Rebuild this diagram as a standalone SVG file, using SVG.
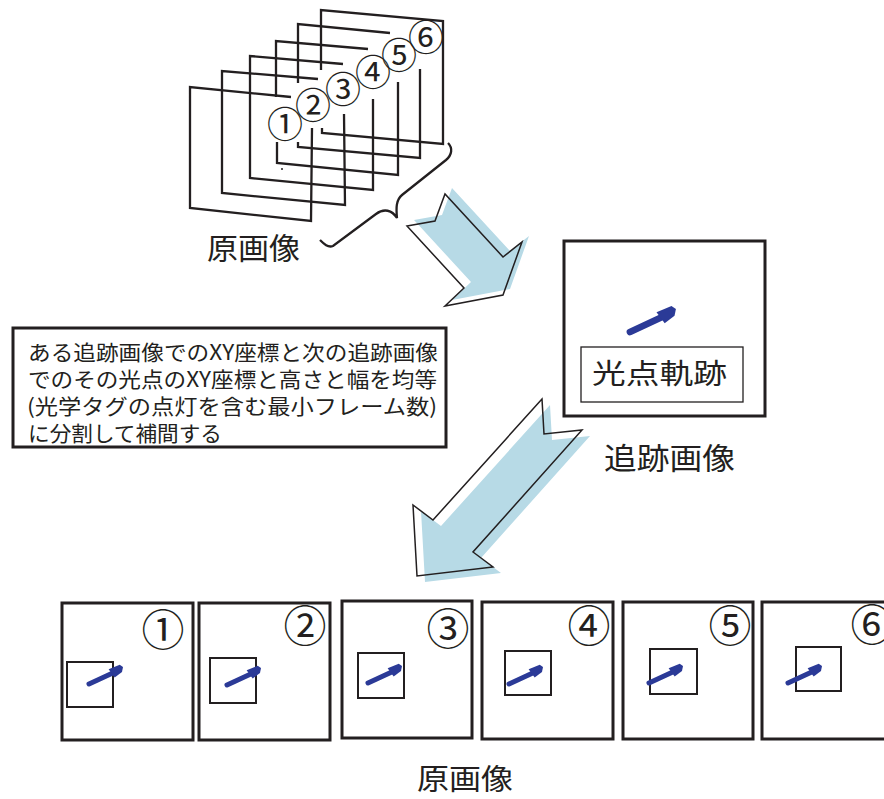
<svg xmlns="http://www.w3.org/2000/svg" xmlns:xlink="http://www.w3.org/1999/xlink" width="884" height="799" viewBox="0 0 884 799">
<style>
.ln{fill:none;stroke:#231f20;stroke-width:2.3;stroke-linejoin:miter}
.fr{fill:#fff;stroke:#231f20;stroke-width:3}
.in{fill:none;stroke:#231f20;stroke-width:2}
.jp{font-family:"Noto Sans CJK JP","Noto Sans",sans-serif;fill:#231f20}
.num{font-family:"Noto Sans CJK JP","DejaVu Sans",sans-serif;fill:#231f20;text-anchor:middle;dominant-baseline:central}
.big{fill:none;stroke:#231f20;stroke-width:1.5;stroke-linejoin:miter}
.sh{fill:#b7dae6;stroke:none}
</style>
<defs>
<g id="trk">
<path d="M0,0 L28,0" stroke="#2b3a97" stroke-width="5" stroke-linecap="round" fill="none"/>
<path d="M24,-5 L36,-4.5 L38,-1 L35,3 L26,5 Z" fill="#2b3a97"/>
</g>
</defs>
<rect width="884" height="799" fill="#fff"/>

<g id="stack">
<path class="ln" d="M291,97 L190,87 L190,208 L311,221 L312,128"/>
<path class="ln" d="M318,79 L222,71 L222,193 L345,205 L344,114"/>
<path class="ln" d="M343,64 L250,56 L250,178 L373,190 L373,99"/>
<path class="ln" d="M368,49 L276,41 L276,97 M277,142 L277,163 L398,175 L398,82"/>
<path class="ln" d="M390,33 L298,24 L298,83 M298,142 L298,147 L420,158 L420,69"/>
<path class="ln" d="M321,70 L321,10 L443,21 L443,144 L322,133 L322,128"/>
<circle cx="282" cy="169" r="1" fill="#231f20"/>
<text class="num" font-size="36" x="285" y="122">①</text>
<text class="num" font-size="36" x="313" y="103">②</text>
<text class="num" font-size="36" x="343" y="87">③</text>
<text class="num" font-size="36" x="373" y="70">④</text>
<text class="num" font-size="36" x="399" y="53">⑤</text>
<text class="num" font-size="36" x="426" y="35">⑥</text>
</g>

<g id="label-original-top">
<path class="ln" stroke-width="1.5" d="M448,143 C453,148 452,155 446,160 L402,195 C396,200 396,208 397,218 C392,210 384,208 376,214 L333,246 C328,248 324,244 320,240"/>
<text class="jp" font-size="30" x="207" y="259" textLength="93" lengthAdjust="spacingAndGlyphs">原画像</text>
</g>

<g id="textbox">
<rect x="13" y="328" width="433" height="119" fill="#fff" stroke="#231f20" stroke-width="3"/>
<text class="jp" font-size="21" x="28" y="360" textLength="410" lengthAdjust="spacingAndGlyphs">ある追跡画像でのXY座標と次の追跡画像</text>
<text class="jp" font-size="21" x="28" y="387" textLength="409" lengthAdjust="spacingAndGlyphs">でのその光点のXY座標と高さと幅を均等</text>
<text class="jp" font-size="21" x="27" y="414" textLength="410" lengthAdjust="spacingAndGlyphs">(光学タグの点灯を含む最小フレーム数)</text>
<text class="jp" font-size="21" x="28" y="441" textLength="194" lengthAdjust="spacingAndGlyphs">に分割して補間する</text>
</g>

<g id="track-image">
<rect x="564" y="241" width="201" height="175" fill="#fff" stroke="#231f20" stroke-width="3"/>
<use xlink:href="#trk" href="#trk" transform="translate(630,332) rotate(-25) scale(1.35)"/>
<rect x="581" y="347" width="162" height="55" fill="#fff" stroke="#231f20" stroke-width="1.3"/>
<text class="jp" font-size="28" x="592" y="384" textLength="135" lengthAdjust="spacingAndGlyphs">光点軌跡</text>
<text class="jp" font-size="30" x="604" y="469" textLength="131" lengthAdjust="spacingAndGlyphs">追跡画像</text>
</g>

<g id="connectors">
<polygon class="sh" points="414,220 442,215 452,188 510,251 529,236 510,289 452,300 471,282"/>
<polygon class="big" points="407,226 435,221 445,194 503,257 522,242 503,295 445,306 464,288"/>
<polygon class="sh" points="550,405 441,526 421,511 425,582 501,573 481,558 590,436 552,440"/>
<polygon class="big" points="542,399 433,520 413,505 417,576 493,567 473,552 582,430 544,434"/>
</g>

<g id="frame-1">
<rect class="fr" x="62" y="603" width="131" height="137"/>
<rect class="in" x="67" y="662" width="46" height="45"/>
<use xlink:href="#trk" href="#trk" transform="translate(89,684) rotate(-25)"/>
<text class="num" font-size="43" x="163" y="627">①</text>
</g>
<g id="frame-2">
<rect class="fr" x="199" y="603" width="131" height="137"/>
<rect class="in" x="210" y="658" width="46" height="45"/>
<use xlink:href="#trk" href="#trk" transform="translate(227,685) rotate(-25)"/>
<text class="num" font-size="43" x="305" y="623">②</text>
</g>
<g id="frame-3">
<rect class="fr" x="342" y="601" width="130" height="137"/>
<rect class="in" x="358" y="653" width="46" height="45"/>
<use xlink:href="#trk" href="#trk" transform="translate(368,683) rotate(-25)"/>
<text class="num" font-size="43" x="448" y="626">③</text>
</g>
<g id="frame-4">
<rect class="fr" x="482" y="602" width="131" height="137"/>
<rect class="in" x="505" y="651" width="46" height="44"/>
<use xlink:href="#trk" href="#trk" transform="translate(509,684) rotate(-25)"/>
<text class="num" font-size="43" x="589" y="623">④</text>
</g>
<g id="frame-5">
<rect class="fr" x="623" y="602" width="130" height="137"/>
<rect class="in" x="650" y="649" width="47" height="45"/>
<use xlink:href="#trk" href="#trk" transform="translate(649,683) rotate(-25)"/>
<text class="num" font-size="43" x="730" y="623">⑤</text>
</g>
<g id="frame-6">
<rect class="fr" x="762" y="602" width="140" height="137"/>
<rect class="in" x="796" y="647" width="45" height="44"/>
<use xlink:href="#trk" href="#trk" transform="translate(788,683) rotate(-25)"/>
<text class="num" font-size="43" x="872" y="622">⑥</text>
</g>

<g id="label-original-bottom">
<text class="jp" font-size="29" x="417" y="790" textLength="96" lengthAdjust="spacingAndGlyphs">原画像</text>
</g>
</svg>
